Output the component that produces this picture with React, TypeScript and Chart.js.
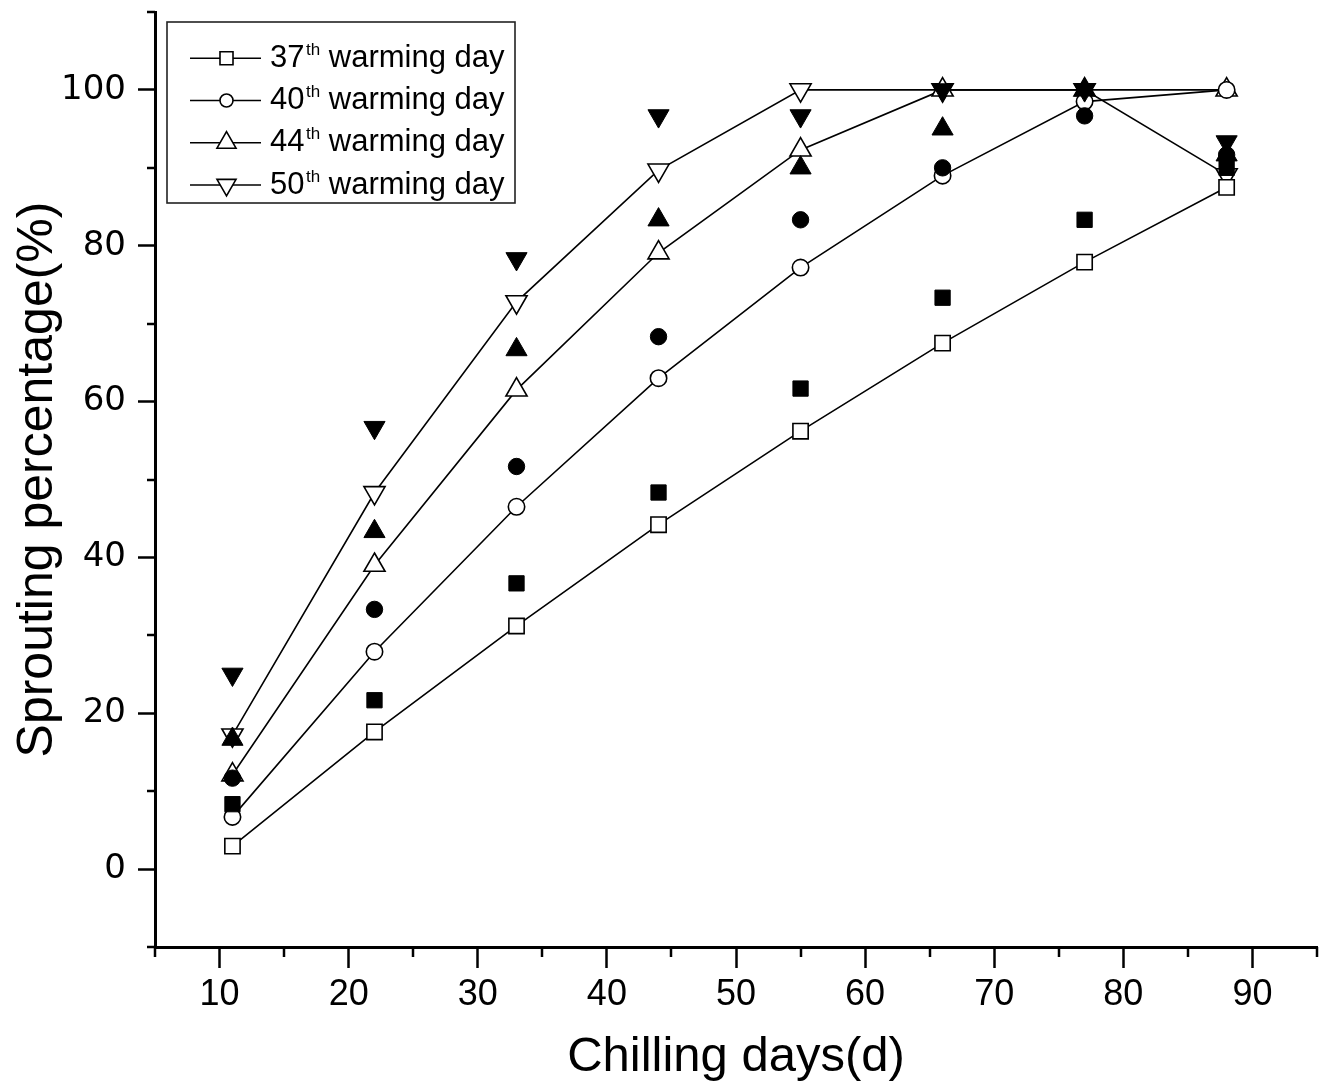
import React, { useEffect, useRef } from 'react';
import { Chart, registerables } from 'chart.js';

Chart.register(...registerables);

// ---- data ----
const chillingDays = [11, 22, 33, 44, 55, 66, 77, 88];
const warmingDays = ['37', '40', '44', '50'];

// open markers with lines
const line37 = [2.95, 17.6, 31.2, 44.2, 56.2, 67.5, 77.9, 87.5];
const line40 = [6.7, 27.9, 46.5, 63.0, 77.2, 89.0, 98.5, 100];
const line44 = [12.1, 39.0, 61.5, 79.1, 92.3, 100, 100, 100];
const line50 = [17.2, 48.3, 72.8, 89.7, 100, 100, 100, 89.1];

// filled markers (no lines)
const dots37 = [8.33, 21.67, 36.67, 48.33, 61.67, 73.33, 83.33, 90];
const dots40 = [11.67, 33.33, 51.67, 68.33, 83.33, 90, 96.67, 91.67];
const dots44 = [16.67, 43.33, 66.67, 83.33, 90, 95, 100, 91.67];
const dots50 = [25, 56.67, 78.33, 96.67, 96.67, 100, 100, 93.33];

const xMajorTicks = [10, 20, 30, 40, 50, 60, 70, 80, 90];
const xMinorTicks = [5, 15, 25, 35, 45, 55, 65, 75, 85, 95];
const yMajorTicks = [0, 20, 40, 60, 80, 100];
const yMinorTicks = [-10, 10, 30, 50, 70, 90, 110];

const xTitle = 'Chilling days(d)';
const yTitle = 'Sprouting percentage(%)';

// ---- styles ----
const markerStyles = ['rect', 'circle', 'triangle', 'triangle'];
const markerRotations = [0, 0, 0, 180];
const markerRadii = [10.8, 8.2, 12.2, 12.2];
const legendRadii = [9.2, 6.5, 11, 11];

const toPoints = (ys: number[]) => chillingDays.map((x, i) => ({ x, y: ys[i] }));

function drawMarker(ctx: CanvasRenderingContext2D, idx: number, x: number, y: number, r: number) {
  ctx.beginPath();
  const style = markerStyles[idx];
  if (style === 'rect') {
    const s = r * Math.SQRT1_2;
    ctx.rect(x - s, y - s, 2 * s, 2 * s);
  } else if (style === 'circle') {
    ctx.arc(x, y, r, 0, Math.PI * 2);
  } else {
    let rad = (markerRotations[idx] * Math.PI) / 180;
    ctx.moveTo(x + Math.sin(rad) * r, y - Math.cos(rad) * r);
    rad += (2 * Math.PI) / 3;
    ctx.lineTo(x + Math.sin(rad) * r, y - Math.cos(rad) * r);
    rad += (2 * Math.PI) / 3;
    ctx.lineTo(x + Math.sin(rad) * r, y - Math.cos(rad) * r);
  }
  ctx.closePath();
  ctx.fillStyle = '#fff';
  ctx.fill();
  ctx.lineWidth = 1.6;
  ctx.strokeStyle = '#000';
  ctx.stroke();
}

const minorTicksPlugin = {
  id: 'minorTicks',
  afterDraw(chart: any) {
    const { ctx, chartArea, scales } = chart;
    const x = scales.x;
    const y = scales.y;
    ctx.save();
    ctx.strokeStyle = '#000';
    ctx.lineWidth = 2.5;
    xMinorTicks.forEach((v) => {
      const px = Math.round(x.getPixelForValue(v));
      ctx.beginPath();
      ctx.moveTo(px, chartArea.bottom);
      ctx.lineTo(px, chartArea.bottom + 10);
      ctx.stroke();
    });
    yMinorTicks.forEach((v) => {
      const py = Math.round(y.getPixelForValue(v));
      ctx.beginPath();
      ctx.moveTo(chartArea.left, py);
      ctx.lineTo(chartArea.left - 8, py);
      ctx.stroke();
    });
    ctx.restore();
  },
};

const legendPlugin = {
  id: 'supLegend',
  afterDraw(chart: any) {
    const ctx: CanvasRenderingContext2D = chart.ctx;
    ctx.save();
    ctx.strokeStyle = '#222';
    ctx.lineWidth = 1.6;
    ctx.strokeRect(167, 22, 348, 181);
    const font = '"Liberation Sans", Arial, sans-serif';
    warmingDays.forEach((d, i) => {
      const cy = 58.3 + i * 42.2;
      ctx.beginPath();
      ctx.moveTo(190, cy);
      ctx.lineTo(261, cy);
      ctx.lineWidth = 1.5;
      ctx.strokeStyle = '#000';
      ctx.stroke();
      drawMarker(ctx, i, 226.5, cy, legendRadii[i]);
      const base = cy + 8.6;
      ctx.fillStyle = '#000';
      ctx.textBaseline = 'alphabetic';
      ctx.textAlign = 'left';
      ctx.font = `31px ${font}`;
      let tx = 270;
      ctx.fillText(d, tx, base);
      tx += ctx.measureText(d).width + 1.5;
      ctx.font = `17px ${font}`;
      ctx.fillText('th', tx, base - 12);
      tx += ctx.measureText('th').width;
      ctx.font = `31px ${font}`;
      ctx.fillText(' warming day', tx, base);
    });
    ctx.restore();
  },
};

export default function App() {
  const ref = useRef<HTMLCanvasElement>(null);

  useEffect(() => {
    document.body.style.margin = '0';
    const lines = [line37, line40, line44, line50];
    const dots = [dots37, dots40, dots44, dots50];
    const datasets: any[] = [];
    dots.forEach((d, i) => {
      datasets.push({
        label: `${warmingDays[i]}th observed`,
        data: toPoints(d),
        showLine: false,
        pointStyle: markerStyles[i],
        pointRotation: markerRotations[i],
        pointRadius: markerRadii[i],
        pointBackgroundColor: '#000',
        pointBorderColor: '#000',
        pointBorderWidth: 1,
        borderColor: '#000',
        order: 0,
      });
    });
    lines.forEach((d, i) => {
      datasets.push({
        label: `${warmingDays[i]}th warming day`,
        data: toPoints(d),
        showLine: true,
        borderColor: '#000',
        borderWidth: 1.6,
        tension: 0,
        pointStyle: markerStyles[i],
        pointRotation: markerRotations[i],
        pointRadius: markerRadii[i],
        pointBackgroundColor: '#fff',
        pointBorderColor: '#000',
        pointBorderWidth: 1.6,
        order: 1,
      });
    });

    const chart = new Chart(ref.current as HTMLCanvasElement, {
      type: 'line',
      data: { datasets },
      options: {
        animation: false,
        responsive: false,
        maintainAspectRatio: false,
        devicePixelRatio: 1,
        layout: { autoPadding: false, padding: { top: 12, right: 9, left: 0, bottom: 0 } },
        plugins: { legend: { display: false }, tooltip: { enabled: false } },
        scales: {
          x: {
            type: 'linear',
            min: 5,
            max: 95,
            afterBuildTicks: (s: any) => {
              s.ticks = xMajorTicks.map((v) => ({ value: v }));
            },
            afterFit: (s: any) => {
              s.height = 137;
              s.paddingLeft = 0;
              s.paddingRight = 0;
            },
            grid: { drawOnChartArea: false, drawTicks: true, tickLength: 21, tickWidth: 2.5, tickColor: '#000' },
            border: { display: true, color: '#000', width: 3 },
            ticks: {
              color: '#000',
              font: { family: '"Liberation Sans", Arial, sans-serif', size: 36 },
              padding: 5,
              maxRotation: 0,
              autoSkip: false,
            },
            title: {
              display: true,
              text: xTitle,
              color: '#000',
              font: { family: '"Liberation Sans", Arial, sans-serif', size: 49 },
              padding: { top: 0, bottom: -3 },
            },
          },
          y: {
            type: 'linear',
            min: -10,
            max: 110,
            afterBuildTicks: (s: any) => {
              s.ticks = yMajorTicks.map((v) => ({ value: v }));
            },
            afterFit: (s: any) => {
              s.width = 155;
              s.paddingTop = 0;
              s.paddingBottom = 0;
            },
            grid: { drawOnChartArea: false, drawTicks: true, tickLength: 17, tickWidth: 2.5, tickColor: '#000' },
            border: { display: true, color: '#000', width: 3 },
            ticks: {
              color: '#000',
              font: { family: '"DejaVu Sans", sans-serif', size: 34 },
              padding: 12,
              autoSkip: false,
            },
            title: {
              display: true,
              text: yTitle,
              color: '#000',
              font: { family: '"Liberation Sans", Arial, sans-serif', size: 50 },
              padding: { top: 8, bottom: 0 },
            },
          },
        },
      },
      plugins: [minorTicksPlugin, legendPlugin],
    } as any);
    return () => chart.destroy();
  }, []);

  return <canvas ref={ref} width={1326} height={1084} style={{ display: 'block' }} />;
}
